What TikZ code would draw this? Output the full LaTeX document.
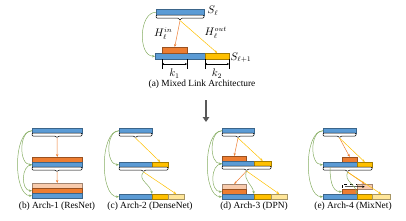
\documentclass[tikz,border=0pt]{standalone}
\usepackage{fontspec}
\setmainfont{Liberation Serif}
\usepackage{tikz}
\usetikzlibrary{arrows.meta}
\definecolor{barblue}{HTML}{5B9BD5}
\definecolor{barorange}{HTML}{ED7D31}
\definecolor{baryellow}{HTML}{FFC000}
\definecolor{barpeach}{HTML}{F8CBAD}
\definecolor{barlight}{HTML}{FFE699}
\definecolor{linkgreen}{HTML}{86AD62}

\begin{document}
\begin{tikzpicture}[
  x=1pt, y=-1pt,
  bar/.style={draw=#1!65!black, fill=#1, line width=0.45pt, inner sep=0pt,
              anchor=north west, minimum height=5pt},
  dashbar/.style={draw=black, fill=white, dashed, line width=0.4pt, inner sep=0pt,
                  anchor=north west, minimum height=5pt},
  brace/.style={draw=black, fill=white, line width=0.5pt, rounded corners=1pt},
  greenlink/.style={draw=linkgreen, line width=0.5pt, -{Stealth[length=3pt,width=2.4pt]}},
  inlink/.style={draw=barorange, line width=0.5pt, -{Stealth[length=3pt,width=2.4pt]}},
  outlink/.style={draw=baryellow, line width=0.5pt, -{Stealth[length=3pt,width=2.4pt]}},
  shiftlink/.style={draw=black, line width=0.5pt, -{Stealth[length=2.5pt,width=2.2pt]}},
  dim/.style={draw=black, line width=0.35pt},
  lbl/.style={font=\fontsize{10.5}{12}\selectfont, inner sep=0.5pt},
  caption/.style={font=\fontsize{9.4}{11}\selectfont, inner sep=0pt},
  bigarrow/.style={draw=black!65, line width=1.8pt, -{Triangle[length=5pt,width=6.5pt]}},
]
\useasboundingbox (0,0) rectangle (406,220);

% (a) mixed link
\node[bar=barblue, minimum width=48pt, minimum height=6pt] (sa) at (156,9) {};
\draw[brace] (156,15) -- (156,18) -- (178.5,18) -- (180,20.5) -- (181.5,18) -- (204,18) -- (204,15) -- cycle;
\coordinate (ta) at (180,20.5);
\node[bar=barblue, minimum width=50pt, minimum height=6pt] (sb) at (155,53) {};
\node[bar=barorange, minimum width=25pt, minimum height=6pt] (oa) at (162,47) {};
\node[bar=baryellow, minimum width=24pt, minimum height=6pt] (ya) at (205,53) {};
\node[lbl, anchor=west] (lsa) at (207,11) {$S_\ell$};
\node[lbl, anchor=west] (lsb) at (230,57.5) {$S_{\ell+1}$};
\node[lbl, anchor=east] (lhin) at (173,34) {$H_\ell^{in}$};
\node[lbl, anchor=west] (lhout) at (204,33) {$H_\ell^{out}$};
\draw[inlink] (ta) -- (oa.north);
\draw[outlink] (ta) -- (ya.north);
\draw[greenlink] (sa.west) to[out=180, in=180, looseness=1] (sb.west);
\coordinate (k1a) at (162,64);
\coordinate (k1b) at (187,64);
\coordinate (k2a) at (205,64);
\coordinate (k2b) at (229,64);
\foreach \kx in {162,187,205,229}
  \draw[dim] (\kx,59) -- (\kx,69);
\draw[dim, {Stealth[length=2pt,width=2pt]}-{Stealth[length=2pt,width=2pt]}] (k1a) -- (k1b);
\draw[dim, {Stealth[length=2pt,width=2pt]}-{Stealth[length=2pt,width=2pt]}] (k2a) -- (k2b);
\node[lbl] (lk1) at (174.5,73.5) {$k_1$};
\node[lbl] (lk2) at (217,73.5) {$k_2$};
\node[caption] (capa) at (202,84) {(a) Mixed Link Architecture};
\coordinate (dn1) at (206,100);
\coordinate (dn2) at (206,122);
\draw[bigarrow] (dn1) -- (dn2);

% (b) Arch-1 (ResNet)
\node[bar=barblue, minimum width=50pt] (b1) at (32,128) {};
\draw[brace] (32,133) -- (32,136) -- (55.5,136) -- (57,138) -- (58.5,136) -- (82,136) -- (82,133) -- cycle;
\coordinate (tb1) at (57,138);
\node[bar=barorange, minimum width=50pt] (b2o) at (32,157) {};
\node[bar=barblue, minimum width=50pt] (b2b) at (32,162) {};
\draw[brace] (32,167) -- (32,170) -- (55.5,170) -- (57,172) -- (58.5,170) -- (82,170) -- (82,167) -- cycle;
\coordinate (tb2) at (57,172);
\node[bar=barpeach, minimum width=50pt] (b3p) at (32,183) {};
\node[bar=barorange, minimum width=50pt] (b3o) at (32,188) {};
\node[bar=barblue, minimum width=50pt] (b3b) at (32,193) {};
\draw[inlink] (tb1) -- (b2o.north);
\draw[inlink] (tb2) -- (b3p.north);
\draw[greenlink] (b1.west) to[out=180, in=180, looseness=1] (b2b.west);
\draw[greenlink] (b1.west) to[out=180, in=180, looseness=0.75] (b3b.west);
\draw[greenlink] (b2b.west) to[out=180, in=180, looseness=1.1] (b3o.west);
\node[caption] (capb) at (57,206) {(b) Arch-1 (ResNet)};

% (c) Arch-2 (DenseNet)
\node[bar=barblue, minimum width=33pt] (c1) at (119,128) {};
\draw[brace] (119,133) -- (119,136) -- (134,136) -- (135.5,138) -- (137,136) -- (152,136) -- (152,133) -- cycle;
\coordinate (tc1) at (135.5,138);
\node[bar=barblue, minimum width=33pt] (c2b) at (119,162) {};
\node[bar=baryellow, minimum width=16pt] (c2y) at (152,162) {};
\draw[brace] (119,167) -- (119,170) -- (142,170) -- (143.5,172) -- (145,170) -- (168,170) -- (168,167) -- cycle;
\coordinate (tc2) at (143.5,172);
\node[bar=barblue, minimum width=33pt] (c3b) at (119,194) {};
\node[bar=baryellow, minimum width=16pt] (c3y) at (152,194) {};
\node[bar=barlight, minimum width=16pt] (c3l) at (168,194) {};
\draw[outlink] (tc1) -- (c2y.north);
\draw[outlink] (tc2) -- (c3l.north);
\draw[greenlink] (c1.west) to[out=180, in=180, looseness=1] (c2b.west);
\draw[greenlink] (c1.west) to[out=180, in=180, looseness=0.75] (c3b.west);
\draw[greenlink] (tc2) to[out=230, in=100, looseness=1.1] (c3y.north west);
\node[caption] (capc) at (150,206) {(c) Arch-2 (DenseNet)};

% (d) Arch-3 (DPN)
\node[bar=barblue, minimum width=32pt] (d1) at (222,128) {};
\draw[brace] (222,133) -- (222,136) -- (236.5,136) -- (238,138) -- (239.5,136) -- (254,136) -- (254,133) -- cycle;
\coordinate (td1) at (238,138);
\node[bar=barorange, minimum width=24pt] (d2o) at (222,156) {};
\node[bar=barblue, minimum width=32pt] (d2b) at (222,161) {};
\node[bar=baryellow, minimum width=17pt] (d2y) at (254,161) {};
\draw[brace] (222,166) -- (222,169) -- (245,169) -- (246.5,171) -- (248,169) -- (271,169) -- (271,166) -- cycle;
\coordinate (td2) at (246.5,171);
\node[bar=barpeach, minimum width=24pt] (d3p) at (222,184) {};
\node[bar=barorange, minimum width=24pt] (d3o) at (222,189) {};
\node[bar=barblue, minimum width=32pt] (d3b) at (222,194) {};
\node[bar=baryellow, minimum width=17pt] (d3y) at (254,194) {};
\node[bar=barlight, minimum width=16pt] (d3l) at (271,194) {};
\draw[inlink] (td1) -- (d2o.north);
\draw[outlink] (td1) -- (d2y.north);
\draw[inlink] (td2) -- (d3p.north);
\draw[outlink] (td2) -- (d3l.north);
\draw[greenlink] (d1.west) to[out=180, in=180, looseness=1] (d2b.west);
\draw[greenlink] (d1.west) to[out=180, in=180, looseness=0.75] (d3b.west);
\draw[greenlink] (d2b.west) to[out=180, in=180, looseness=1.1] (d3o.west);
\draw[greenlink] (td2) to[out=250, in=100, looseness=1.1] (d3y.north west);
\node[caption] (capd) at (254,206) {(d) Arch-3 (DPN)};

% (e) Arch-4 (MixNet)
\node[bar=barblue, minimum width=33pt] (e1) at (323,128) {};
\draw[brace] (323,133) -- (323,136) -- (338,136) -- (339.5,138) -- (341,136) -- (356,136) -- (356,133) -- cycle;
\coordinate (te1) at (339.5,138);
\node[bar=barorange, minimum width=15pt] (e2o) at (342,157) {};
\node[bar=barblue, minimum width=34pt] (e2b) at (323,162) {};
\node[bar=baryellow, minimum width=15pt] (e2y) at (357,162) {};
\draw[brace] (323,167) -- (323,170) -- (346,170) -- (347.5,172) -- (349,170) -- (372,170) -- (372,167) -- cycle;
\coordinate (te2) at (347.5,172);
\node[dashbar, minimum width=15pt] (e3d) at (342,184) {};
\node[bar=barpeach, minimum width=15pt] (e3p) at (357,184) {};
\node[bar=barorange, minimum width=15pt] (e3o) at (342,189) {};
\node[bar=barblue, minimum width=34pt] (e3b) at (323,194) {};
\node[bar=baryellow, minimum width=15pt] (e3y) at (357,194) {};
\node[bar=barlight, minimum width=18pt] (e3l) at (372,194) {};
\draw[shiftlink] ([xshift=3pt]e3d.west) -- (e3p.center);
\draw[inlink] (te1) -- (e2o.north);
\draw[outlink] (te1) -- (e2y.north);
\draw[inlink] (te2) -- (e3p.north);
\draw[outlink] (te2) -- (e3l.north);
\draw[greenlink] (e1.west) to[out=180, in=180, looseness=1] (e2b.west);
\draw[greenlink] (e1.west) to[out=180, in=180, looseness=0.75] (e3b.west);
\draw[greenlink] ([xshift=7pt]e2b.south west) to[out=-90, in=180, looseness=1] (e3o.west);
\draw[greenlink] (te2) to[out=250, in=100, looseness=1.1] (e3y.north west);
\node[caption] (cape) at (353,206) {(e) Arch-4 (MixNet)};

\end{tikzpicture}
\end{document}
